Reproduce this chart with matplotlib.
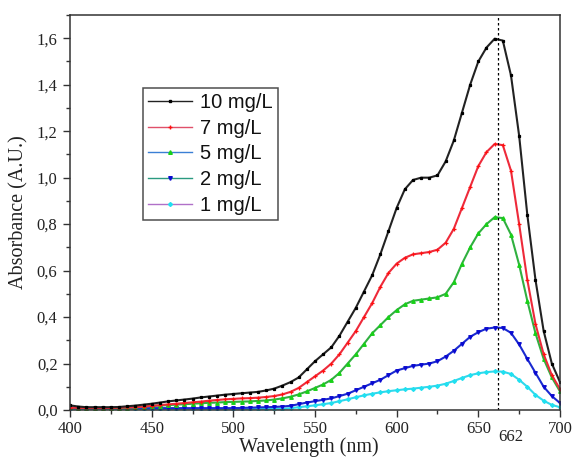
import matplotlib
matplotlib.use("Agg")
import matplotlib.pyplot as plt
from matplotlib.lines import Line2D
from matplotlib.ticker import MultipleLocator

# Wavelength grid (nm)
wavelength = list(range(400, 701, 5))

# Absorbance spectra (A.U.) for each concentration
abs_10 = [0.020, 0.015, 0.012, 0.012, 0.012, 0.012, 0.013, 0.016, 0.019, 0.023,
          0.027, 0.032, 0.037, 0.041, 0.045, 0.049, 0.054, 0.058, 0.062, 0.066,
          0.069, 0.072, 0.075, 0.078, 0.084, 0.092, 0.105, 0.120, 0.140, 0.175,
          0.210, 0.240, 0.270, 0.320, 0.380, 0.440, 0.510, 0.580, 0.670, 0.770,
          0.870, 0.950, 0.990, 1.000, 1.000, 1.010, 1.070, 1.160, 1.280, 1.400,
          1.500, 1.560, 1.598, 1.590, 1.440, 1.180, 0.840, 0.560, 0.340, 0.200,
          0.120]
abs_7 = [0.010, 0.010, 0.008, 0.008, 0.008, 0.009, 0.010, 0.011, 0.012, 0.015,
         0.018, 0.021, 0.024, 0.027, 0.030, 0.033, 0.036, 0.040, 0.043, 0.046,
         0.048, 0.050, 0.051, 0.053, 0.056, 0.060, 0.067, 0.078, 0.095, 0.120,
         0.145, 0.170, 0.200, 0.240, 0.290, 0.340, 0.400, 0.460, 0.530, 0.590,
         0.630, 0.655, 0.670, 0.675, 0.680, 0.690, 0.720, 0.780, 0.870, 0.960,
         1.050, 1.110, 1.145, 1.140, 1.030, 0.800, 0.560, 0.370, 0.240, 0.150,
         0.090]
abs_5 = [0.012, 0.010, 0.009, 0.009, 0.009, 0.009, 0.009, 0.010, 0.011, 0.014,
         0.017, 0.019, 0.021, 0.023, 0.025, 0.027, 0.029, 0.031, 0.032, 0.034,
         0.035, 0.036, 0.037, 0.039, 0.041, 0.045, 0.050, 0.057, 0.067, 0.080,
         0.095, 0.110, 0.130, 0.160, 0.200, 0.240, 0.285, 0.330, 0.365, 0.400,
         0.430, 0.455, 0.470, 0.475, 0.480, 0.485, 0.500, 0.550, 0.630, 0.700,
         0.760, 0.800, 0.830, 0.826, 0.755, 0.625, 0.470, 0.330, 0.220, 0.140,
         0.080]
abs_2 = [0.008, 0.008, 0.008, 0.008, 0.008, 0.008, 0.008, 0.008, 0.008, 0.008,
         0.008, 0.008, 0.008, 0.008, 0.008, 0.008, 0.008, 0.008, 0.008, 0.008,
         0.008, 0.009, 0.010, 0.011, 0.012, 0.013, 0.015, 0.018, 0.025, 0.032,
         0.038, 0.044, 0.050, 0.060, 0.070, 0.085, 0.100, 0.115, 0.130, 0.150,
         0.170, 0.180, 0.190, 0.195, 0.200, 0.210, 0.230, 0.255, 0.285, 0.315,
         0.335, 0.350, 0.355, 0.353, 0.332, 0.282, 0.220, 0.160, 0.100, 0.060,
         0.030]
abs_1 = [0.005, 0.005, 0.005, 0.005, 0.005, 0.005, 0.005, 0.005, 0.005, 0.005,
         0.005, 0.005, 0.005, 0.005, 0.005, 0.005, 0.005, 0.005, 0.005, 0.005,
         0.005, 0.005, 0.005, 0.005, 0.005, 0.005, 0.005, 0.008, 0.012, 0.016,
         0.020, 0.025, 0.030, 0.038, 0.046, 0.055, 0.063, 0.070, 0.076, 0.081,
         0.085, 0.089, 0.092, 0.096, 0.100, 0.105, 0.113, 0.125, 0.138, 0.150,
         0.158, 0.163, 0.166, 0.165, 0.155, 0.130, 0.100, 0.065, 0.040, 0.022,
         0.012]

labels = ["10 mg/L", "7 mg/L", "5 mg/L", "2 mg/L", "1 mg/L"]
series = [abs_10, abs_7, abs_5, abs_2, abs_1]
legend_line_colors = ["#222222", "#e0506a", "#3a7fd5", "#2a9a80", "#b070c8"]
curve_line_colors = ["#222222", "#ee2a3a", "#30b040", "#1a2ad0", "#30d8ec"]
marker_colors = ["#000000", "#ff1010", "#18d018", "#0a0ad0", "#20e0f0"]
markers = ["s", "+", "^", "v", "D"]
marker_sizes = [2.0, 3.0, 2.6, 2.6, 2.0]

peak_nm = 662
x_ticks = [400, 450, 500, 550, 600, 650, 700]
x_tick_labels = ["400", "450", "500", "550", "600", "650", "700"]
y_ticks = [0.0, 0.2, 0.4, 0.6, 0.8, 1.0, 1.2, 1.4, 1.6]
y_tick_labels = ["0,0", "0,2", "0,4", "0,6", "0,8", "1,0", "1,2", "1,4", "1,6"]

serif = ["Liberation Serif", "DejaVu Serif"]
sans = ["Liberation Sans", "DejaVu Sans"]
text_col = "#222222"

fig = plt.figure(figsize=(5.72, 4.58), dpi=100)
ax = fig.add_axes([0.1224, 0.1048, 0.8566, 0.8624])

# Lowest concentration first so the strongest spectrum sits on top
for y, lc, mc, mk, ms in list(zip(series, curve_line_colors, marker_colors,
                                  markers, marker_sizes))[::-1]:
    ax.plot(wavelength, y, color=lc, linewidth=1.5, marker=mk, markersize=ms,
            markerfacecolor=mc, markeredgecolor=mc, markeredgewidth=0.9)

ax.axvline(peak_nm, color="black", linestyle=(0, (2, 2)), linewidth=0.9)

ax.set_xlim(400, 700)
ax.set_ylim(0, 1.7)
ax.set_xticks(x_ticks)
ax.set_xticklabels(x_tick_labels, family=serif, fontsize=12, color=text_col)
ax.set_yticks(y_ticks)
ax.set_yticklabels(y_tick_labels, family=serif, fontsize=12, color=text_col)
ax.xaxis.set_minor_locator(MultipleLocator(25))
ax.yaxis.set_minor_locator(MultipleLocator(0.1))
ax.tick_params(which="major", direction="out", length=5, width=1.0, color="#333333")
ax.tick_params(axis="x", which="major", pad=3)
ax.tick_params(axis="y", which="major", pad=4)
ax.tick_params(which="minor", direction="out", length=2.8, width=1.0, color="#333333")
for s in ax.spines.values():
    s.set_linewidth(1.1)
    s.set_color("#333333")

ax.set_xlabel("Wavelength (nm)", family=serif, fontsize=14.5, color=text_col)
ax.xaxis.set_label_coords(0.487, -0.068)
ax.set_ylabel("Absorbance (A.U.)", family=serif, fontsize=14.5, color=text_col)
ax.yaxis.set_label_coords(-0.085, 0.5)

ax.annotate(str(peak_nm), xy=(peak_nm + 0.5, -0.068), xycoords=("data", "axes fraction"),
            ha="left", va="center", family=serif, fontsize=12, color=text_col,
            annotation_clip=False)

handles = [Line2D([], [], color=lc, linewidth=1.0, marker=mk, markersize=ms,
                  markerfacecolor=mc, markeredgecolor=mc)
           for lc, mc, mk, ms in zip(legend_line_colors, marker_colors, markers, marker_sizes)]
leg = ax.legend(handles, labels, loc="upper left", bbox_to_anchor=(0.149, 0.815),
                borderaxespad=0, frameon=True, fancybox=False, edgecolor="#222222",
                prop={"family": sans, "size": 14.5}, labelspacing=0.33,
                handlelength=2.2, handletextpad=0.4, borderpad=0.25, markerscale=1.0)
leg.get_frame().set_linewidth(1.1)
for t in leg.get_texts():
    t.set_color("#111111")

fig.savefig("out.png", dpi=100)
